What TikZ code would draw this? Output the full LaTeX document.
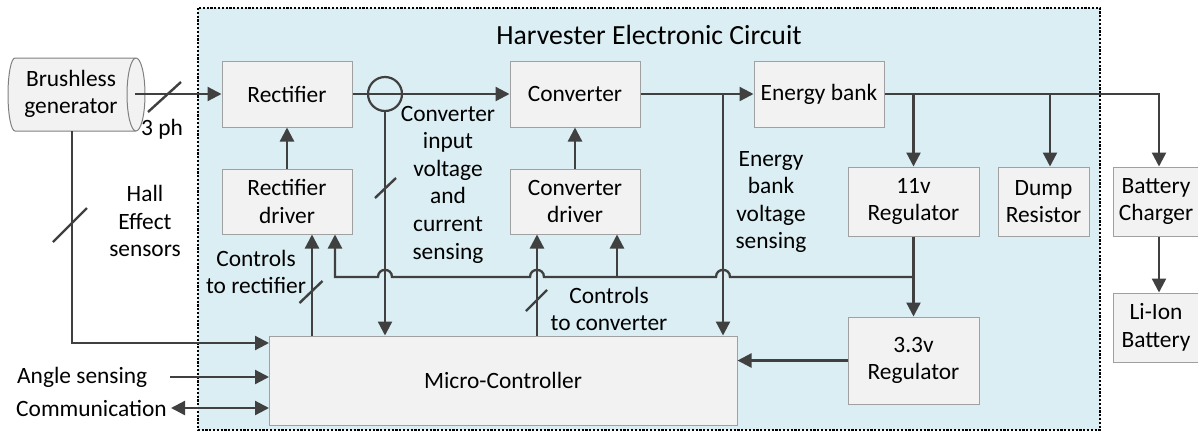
\documentclass[tikz,border=0pt]{standalone}
\usepackage{fontspec}
\setmainfont{Carlito}
\usetikzlibrary{arrows.meta}
\definecolor{bgblue}{HTML}{DAEEF3}
\definecolor{boxfill}{HTML}{F2F2F2}
\definecolor{boxline}{HTML}{A0A0A0}
\definecolor{wire}{HTML}{404040}
\tikzset{
  txt/.style={font=\fontsize{23.4}{27.6}\selectfont, align=center, inner sep=0pt, text=black},
  blk/.style={txt, draw=boxline, fill=boxfill, line width=1pt},
  wireline/.style={draw=wire, line width=2.3pt},
  conn/.style={wireline, -{Triangle[length=14pt,width=14pt]}},
  bconn/.style={wireline, {Triangle[length=14pt,width=14pt]}-{Triangle[length=14pt,width=14pt]}},
  slashmark/.style={draw=wire, line width=2.4pt},
  frame/.style={draw=black, line width=1.3pt, dash pattern=on 2.2pt off 1.6pt, fill=bgblue}
}
\begin{document}
\begin{tikzpicture}[x=1pt,y=-1pt]
\fill[white] (0,0) rectangle (1198,432);
\useasboundingbox (0,0) rectangle (1198,432);
\draw[frame] (198,8) rectangle (1100,430);
\node[txt, font=\fontsize{27.7}{30}\selectfont] (title) at (649,35) {Harvester Electronic Circuit};

% generator cylinder
\fill[boxfill] (136,58) -- (15,58) arc[start angle=90, end angle=270, x radius=7pt, y radius=36.5pt]
  -- (136,131) arc[start angle=-90, end angle=90, x radius=9pt, y radius=36.5pt] -- cycle;
\draw[boxline!80!black, line width=1pt] (136,58) -- (15,58) arc[start angle=90, end angle=270, x radius=7pt, y radius=36.5pt]
  -- (136,131) arc[start angle=-90, end angle=90, x radius=9pt, y radius=36.5pt]
  arc[start angle=90, end angle=270, x radius=9pt, y radius=36.5pt];
\node[txt] (gen) at (71,94) {Brushless\\generator};
\coordinate (genR) at (135,94);
\coordinate (genB) at (72,131);

% blocks
\node[blk, minimum width=130pt, minimum height=66pt] (rect) at (287,94) {Rectifier};
\node[blk, minimum width=130pt, minimum height=65pt] (rdrv) at (287,201.5) {Rectifier\\driver};
\node[blk, minimum width=130pt, minimum height=66pt] (conv) at (575,94) {Converter};
\node[blk, minimum width=130pt, minimum height=65pt] (cdrv) at (575,201.5) {Converter\\driver};
\node[blk, minimum width=130pt, minimum height=66pt] (ebank) at (819,94) {Energy bank};
\node[blk, minimum width=131pt, minimum height=69pt] (reg11) at (913.5,201.5) {11v\\Regulator};
\node[blk, minimum width=91pt, minimum height=69pt] (dump) at (1043.5,201.5) {Dump\\Resistor};
\node[blk, minimum width=85pt, minimum height=69pt] (bchg) at (1156,201.5) {Battery\\Charger};
\node[blk, minimum width=85pt, minimum height=69pt] (liion) at (1156,327.5) {Li-Ion\\Battery};
\node[blk, minimum width=131pt, minimum height=87pt] (reg33) at (913.5,360.5) {3.3v\\Regulator};
\node[blk, minimum width=468pt, minimum height=89pt] (mc) at (503,380.5) {Micro-Controller};

\node[draw=wire, line width=2.2pt, circle, minimum size=34pt, inner sep=0pt] (sens) at (385,94) {};

% column coordinates
\coordinate (x312) at (312,0);
\coordinate (x335) at (335,0);
\coordinate (x537) at (537,0);
\coordinate (x617) at (617,0);
\coordinate (x723) at (723,0);
\coordinate (x1050) at (1050,0);
\coordinate (x1159) at (1159,0);
\coordinate (j11) at (913.5,277);
\coordinate (mcHall) at (269,343);
\coordinate (mcAng) at (269,377);
\coordinate (mcCom) at (269,408);
\coordinate (angS) at (170,377);
\coordinate (comS) at (171,408);

% generator connections
\draw[conn] (genR) -- (rect.west);
\draw[slashmark] (164.5,97) ++(-16.5,15) -- ++(33,-30);
\node[txt] (ph) at (162,129) {3 ph};
\draw[conn] (genB) |- (mcHall);
\draw[slashmark] (70,225) ++(-17,17) -- ++(34,-34);
\node[txt] (hall) at (145,221) {Hall\\Effect\\sensors};

% external inputs
\node[txt, anchor=west] (angT) at (17,377) {Angle sensing};
\node[txt, anchor=west] (comT) at (16,408) {Communication};
\draw[conn] (angS) -- (mcAng);
\draw[bconn] (comS) -- (mcCom);

% rectifier area
\draw[conn] (rdrv.north) -- (rect.south);
\draw[conn] (x312 |- mc.north) -- (x312 |- rdrv.south);
\draw[slashmark] (311,292) ++(-11.5,11) -- ++(23,-22);
\node[txt] (ctrlR) at (256,272) {Controls\\to rectifier};

\draw[conn] (rect.east) -- (conv.west);
\draw[conn] (sens.south) -- (sens.south |- mc.north);
\draw[slashmark] (385.5,188) ++(-10.5,10) -- ++(21,-20);
\node[txt] (sensT) at (448,184.5) {Converter\\input\\voltage\\and\\current\\sensing};

% converter area
\draw[conn] (cdrv.north) -- (conv.south);
\draw[conn] (x537 |- mc.north) -- (x537 |- cdrv.south);
\draw[slashmark] (536.5,300.5) ++(-10.5,10.5) -- ++(21,-21);
\node[txt] (ctrlC) at (609,309) {Controls\\to converter};

\draw[conn] (conv.east) -- (ebank.west);
\draw[conn] (x723 |- conv.east) -- (x723 |- mc.north);
\node[txt] (ebT) at (771,202) {Energy\\bank\\voltage\\sensing};

% energy bank outputs
\draw[conn] (ebank.east) -| (x1159 |- bchg.north);
\draw[conn] (reg11.north |- ebank.east) -- (reg11.north);
\draw[conn] (x1050 |- ebank.east) -- (x1050 |- dump.north);
\draw[conn] (x1159 |- bchg.south) -- (x1159 |- liion.north);

% regulators
\draw[conn] (reg11.south) -- (reg33.north);
\draw[conn] (reg33.west) -- (mc.east |- reg33.west);

% supply bus with hops
\draw[conn] (j11) -- (730,277) .. controls (730,267.5) and (716,267.5) .. (716,277)
  -- (544,277) .. controls (544,267.5) and (530,267.5) .. (530,277)
  -- (392,277) .. controls (392,267.5) and (378,267.5) .. (378,277)
  -- (x335 |- j11) -- (x335 |- rdrv.south);
\draw[conn] (x617 |- j11) -- (x617 |- cdrv.south);
\end{tikzpicture}
\end{document}
